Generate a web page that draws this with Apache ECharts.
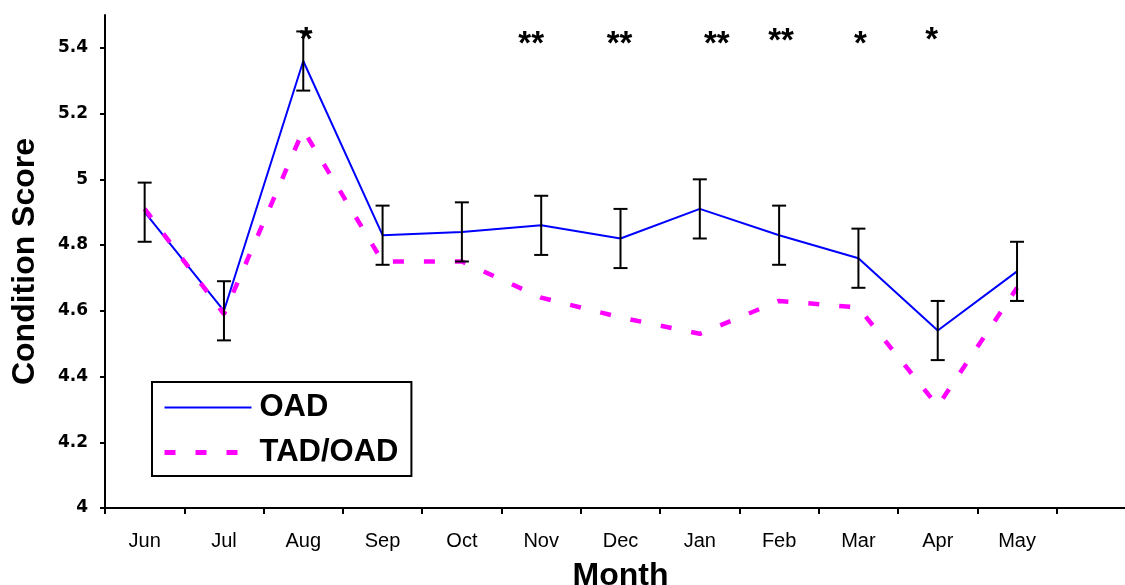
<!DOCTYPE html>
<html>
<head>
<meta charset="utf-8">
<script src="https://cdn.jsdelivr.net/npm/echarts@6/dist/echarts.min.js"></script>
<style>
html,body{margin:0;padding:0;background:#fff;}
#chart{width:1125px;height:585px;}
</style>
</head>
<body>
<div id="chart"></div>
<script>
// ---- data ----
const months = ['Jun','Jul','Aug','Sep','Oct','Nov','Dec','Jan','Feb','Mar','Apr','May'];
const oad    = [4.90, 4.60, 5.36, 4.83, 4.84, 4.86, 4.82, 4.91, 4.83, 4.76, 4.54, 4.72];
const oadErr = [0.09, 0.09, 0.09, 0.09, 0.09, 0.09, 0.09, 0.09, 0.09, 0.09, 0.09, 0.09];
const tadOad = [4.91, 4.59, 5.15, 4.75, 4.75, 4.64, 4.58, 4.53, 4.63, 4.61, 4.31, 4.67];
const sigMarks = ['', '', '*', '', '', '**', '**', '**', '**', '*', '*', ''];
const sigLevel = 5.41;
const yTicks = [4, 4.2, 4.4, 4.6, 4.8, 5, 5.2, 5.4];

// ---- styling ----
const FONT = 'Arial, "Liberation Sans", Helvetica, sans-serif';
const sigDx = [0, 0, 3, 0, 0, -10, -1, 17, 2, 2, -6, 0];
const sigDy = [-4, 0, -4, 0, 0, 0, 0, 0, -3, 0, -4, 0];
const categories = months.concat(['']);

const chart = echarts.init(document.getElementById('chart'), null, {renderer: 'canvas'});
const option = {
  backgroundColor: '#ffffff',
  animation: false,
  grid: {left: 105, top: 15, width: 1031, height: 493, containLabel: false, outerBoundsMode: 'none'},
  legend: {
    orient: 'vertical',
    left: 152, top: 382,
    data: [
      {name: 'OAD', lineStyle: {color: '#0000FF', width: 2, type: 'solid'}},
      {name: 'TAD/OAD', lineStyle: {color: '#FF00FF', width: 5, type: [11, 20]}}
    ],
    itemWidth: 87, itemHeight: 14, itemGap: 14,
    itemStyle: {opacity: 0},
    padding: [10, 13, 8, 10],
    borderColor: '#000', borderWidth: 2, borderRadius: 0,
    backgroundColor: '#fff',
    textStyle: {fontFamily: FONT, fontSize: 31, fontWeight: 'bold', color: '#000', padding: [0, 0, 0, 3]},
    selectedMode: false
  },
  xAxis: {
    type: 'category',
    data: categories,
    boundaryGap: true,
    name: 'Month',
    nameLocation: 'middle',
    nameGap: 52,
    nameTextStyle: {fontFamily: FONT, fontSize: 32, fontWeight: 'bold', color: '#000'},
    axisLine: {lineStyle: {color: '#000', width: 2}},
    axisTick: {show: true, length: 6, inside: false, alignWithLabel: false, lineStyle: {color: '#000', width: 2}},
    axisLabel: {interval: 0, margin: 23, fontFamily: FONT, fontSize: 20, color: '#000'},
    splitLine: {show: false}
  },
  yAxis: {
    type: 'value',
    min: 4, max: 5.5,
    name: 'Condition Score',
    nameLocation: 'middle',
    nameGap: 64,
    nameRotate: 90,
    nameTextStyle: {fontFamily: FONT, fontSize: 32, fontWeight: 'bold', color: '#000'},
    axisLine: {show: true, lineStyle: {color: '#000', width: 2}},
    axisTick: {show: true, length: 5, customValues: yTicks, lineStyle: {color: '#000', width: 2}},
    axisLabel: {customValues: yTicks, margin: 17, fontFamily: '"DejaVu Sans", Arial, sans-serif', fontSize: 17, fontWeight: 'bold', color: '#000'},
    splitLine: {show: false}
  },
  series: [
    {
      name: 'OAD', type: 'line', data: oad,
      symbol: 'none', showSymbol: false,
      lineStyle: {color: '#0000FF', width: 2},
      itemStyle: {color: '#0000FF'},
      z: 3
    },
    {
      name: 'TAD/OAD', type: 'line', data: tadOad,
      symbol: 'none', showSymbol: false,
      lineStyle: {color: '#FF00FF', width: 4.5, type: [11, 20]},
      itemStyle: {color: '#FF00FF'},
      z: 4
    },
    {
      name: 'err', type: 'custom',
      data: oad.map((v, i) => [i, v - oadErr[i], v + oadErr[i]]),
      renderItem: function (params, api) {
        const x = api.value(0);
        const lo = api.coord([x, api.value(1)]);
        const hi = api.coord([x, api.value(2)]);
        const hw = 7;
        const st = {stroke: '#000', lineWidth: 2};
        return {type: 'group', children: [
          {type: 'line', shape: {x1: lo[0], y1: lo[1], x2: hi[0], y2: hi[1]}, style: st},
          {type: 'line', shape: {x1: lo[0]-hw, y1: lo[1], x2: lo[0]+hw, y2: lo[1]}, style: st},
          {type: 'line', shape: {x1: hi[0]-hw, y1: hi[1], x2: hi[0]+hw, y2: hi[1]}, style: st}
        ]};
      },
      z: 5
    },
    {
      name: 'sig', type: 'custom',
      data: sigMarks.map((s, i) => [i, sigLevel, s]).filter(d => d[2] !== ''),
      renderItem: function (params, api) {
        const i = api.value(0);
        const p = api.coord([i, api.value(1)]);
        const txt = sigMarks[i];
        return {type: 'text', x: p[0] + sigDx[i], y: p[1] + sigDy[i], style: {
          text: txt, fontFamily: FONT, fontSize: 33, fontWeight: 'bold', fill: '#000',
          align: 'center', verticalAlign: 'middle'
        }};
      },
      z: 6
    }
  ]
};
chart.setOption(option);
</script>
</body>
</html>
